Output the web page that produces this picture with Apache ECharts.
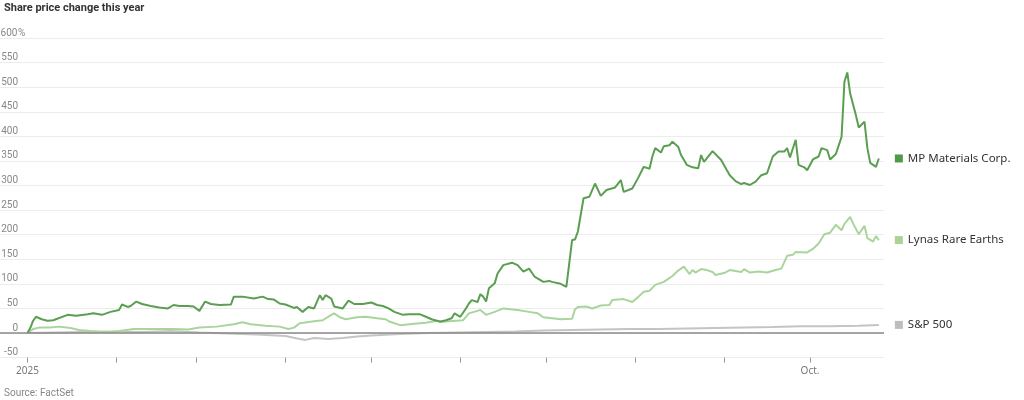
<!DOCTYPE html>
<html>
<head>
<meta charset="utf-8">
<script src="https://cdn.jsdelivr.net/npm/echarts@6/dist/echarts.min.js"></script>
<style>
html,body{margin:0;padding:0;background:#fff;}
#chart{width:1024px;height:400px;}
</style>
</head>
<body>
<div id="chart"></div>
<script>
// Days since 1 Jan 2025 and share price change (%)
const mpDays = [0,1,2,3,5,7,9,14,17,21,23,26,29,32,33,35,36,38,40,43,46,49,51,53,56,58,60,62,64,67,71,72,75,79,82,84,86,88,90,93,94,96,98,100,102,103,104,106,107,110,112,114,117,120,122,124,126,128,131,133,137,139,141,144,146,148,149,151,153,154,155,157,158,159,160,161,163,164,166,169,171,173,175,177,180,182,183,186,188,190,191,192,194,196,198,200,202,205,207,208,211,213,215,217,218,219,221,222,224,225,227,228,230,232,234,235,236,239,242,244,245,247,249,250,252,254,256,258,260,262,264,265,266,268,269,271,272,274,276,277,279,280,282,284,285,286,287,289,290,292,293,294,296,297];
const mpValues = [0,10,25,33,28,25,26,37,35,38,40,37,43,47,58,53,55,64,59,55,52,50,57,55,55,54,45,64,59,57,58,74,74,70,74,69,68,60,58,51,53,43,53,50,77,67,77,70,54,50,66,59,59,62,57,55,50,43,37,38,38,33,28,23,26,30,40,33,50,60,67,63,79,74,64,91,101,121,138,143,138,125,131,114,104,106,104,100,94,189,190,206,274,277,304,279,291,296,311,287,294,315,338,334,359,376,367,380,382,389,379,362,342,337,335,362,348,370,352,331,321,309,303,305,301,308,321,325,359,369,369,376,357,393,342,337,331,353,359,376,372,353,364,399,511,530,487,443,418,430,376,346,338,355];

const lynasDays = [0,2,4,8,11,15,18,22,25,29,32,37,42,46,51,56,60,66,72,75,78,83,88,91,93,95,100,103,106,107,109,111,115,118,122,125,126,130,135,139,143,145,147,152,154,157,158,160,163,166,171,175,178,180,183,186,190,191,192,195,197,200,203,204,208,211,213,215,217,219,222,225,227,229,231,232,233,235,237,239,240,243,245,247,249,250,252,255,258,261,263,265,267,268,272,274,276,278,280,282,284,285,287,288,290,292,293,295,296,297];
const lynasValues = [0,8,11,11,13,10,6,4,3,2,4,8,8,8,8,7,11,13,18,22,18,15,13,8,11,20,24,26,37,40,32,28,32,33,30,28,24,16,19,21,25,23,24,26,40,45,47,37,43,50,47,43,40,32,30,28,29,48,53,54,50,56,57,67,69,63,73,84,86,98,104,116,127,135,120,128,123,130,128,124,118,122,128,126,124,130,123,125,123,128,131,157,159,165,164,171,182,201,204,220,209,222,236,223,201,218,193,186,197,189];

const spDays = [0,10,20,30,40,50,60,70,80,90,95,97,100,105,110,115,120,130,140,150,160,170,180,190,200,210,220,230,240,250,260,270,280,290,297];
const spValues = [0,1,2,3,2,4,1,-1,-3,-6,-12,-14,-10,-12,-10,-7,-5,-2,0,1,2,3,5,6,7,8,8,9,10,11,12,14,14,15,16.5];

const seriesNames = ['MP Materials Corp.', 'Lynas Rare Earths', 'S&P 500'];
const monthStartDays = [0,31,59,90,120,151,181,212,243,273];
const xLabelDays = [0, 273];
const xLabelTexts = ['2025', 'Oct.'];

const colors = { mp: '#5b9e52', lynas: '#a9d59c', sp: '#c4c4c4' };
const legendColors = { mp: '#4f9a47', lynas: '#a6d597', sp: '#bdbdbd' };

function pairs(xs, ys){ return xs.map((x,i)=>[x, ys[i]]); }

function endLabel(name, sq){
  return {
    show: true,
    distance: 16,
    formatter: '{s|}{n|' + name + '}',
    rich: {
      s: { width: 8, height: 8, backgroundColor: sq },
      n: { padding: [0,0,0,5], fontSize: 11.5, color: '#333', fontFamily: 'Noto Sans' }
    }
  };
}

const chart = echarts.init(document.getElementById('chart'), null, { renderer: 'canvas' });
chart.setOption({
  animation: false,
  textStyle: { fontFamily: 'Noto Sans' },
  title: [
    { text: 'Share price change this year', left: -1, top: -2,
      textStyle: { fontSize: 11, fontWeight: 'bold', color: '#333', fontFamily: 'Roboto' } },
    { text: 'Source: FactSet', left: -1, bottom: -3,
      textStyle: { fontSize: 10, fontWeight: 'normal', color: '#888', fontFamily: 'Roboto' } }
  ],
  grid: { left: 0, right: 140, top: 38, bottom: 42.4, containLabel: false, outerBoundsMode: 'none' },
  xAxis: {
    type: 'value',
    min: -9.56, max: 298.8,
    axisLine: { show: false, onZero: false },
    splitLine: { show: false },
    axisTick: { show: true, customValues: monthStartDays, length: 5, lineStyle: { color: '#999' } },
    axisLabel: {
      customValues: xLabelDays,
      formatter: v => xLabelTexts[xLabelDays.indexOf(v)] || '',
      color: '#777', fontSize: 10, margin: 9
    }
  },
  yAxis: {
    type: 'value',
    min: -50, max: 600, interval: 50,
    axisLine: { show: false },
    axisTick: { show: false },
    splitLine: { show: true, lineStyle: { color: '#ececec', width: 1 } },
    axisLabel: {
      inside: true, margin: 0,
      verticalAlign: 'bottom',
      lineHeight: 10,
      color: '#888', fontSize: 10, fontFamily: 'Roboto',
      formatter: v => v === 600 ? '{v|600}{p|%}' : '{v|' + v + '}',
      rich: {
        v: { width: 18, align: 'right', color: '#888', fontSize: 10, lineHeight: 10, fontFamily: 'Roboto' },
        p: { color: '#888', fontSize: 10, lineHeight: 10, fontFamily: 'Roboto' }
      }
    }
  },
  series: [
    {
      name: seriesNames[2], type: 'line', data: pairs(spDays, spValues),
      showSymbol: false, symbol: 'none',
      lineStyle: { color: colors.sp, width: 2 },
      endLabel: endLabel(seriesNames[2], legendColors.sp),
      markLine: {
        silent: true, symbol: ['none','none'],
        label: { show: false },
        lineStyle: { color: '#8a8a8a', width: 1.5, type: 'solid' },
        data: [{ yAxis: 0 }]
      }
    },
    {
      name: seriesNames[1], type: 'line', data: pairs(lynasDays, lynasValues),
      showSymbol: false, symbol: 'none',
      lineStyle: { color: colors.lynas, width: 2 },
      endLabel: endLabel(seriesNames[1], legendColors.lynas)
    },
    {
      name: seriesNames[0], type: 'line', data: pairs(mpDays, mpValues),
      showSymbol: false, symbol: 'none',
      lineStyle: { color: colors.mp, width: 2 },
      endLabel: endLabel(seriesNames[0], legendColors.mp)
    }
  ]
});
</script>
</body>
</html>
